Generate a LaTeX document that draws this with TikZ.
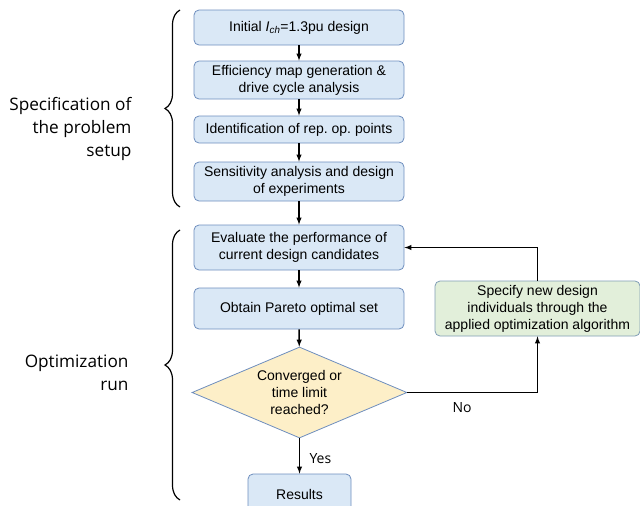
\documentclass[tikz,border=0pt]{standalone}
\usepackage{xcolor}
\usepackage{fontspec}
\setmainfont{Liberation Sans}
\newfontfamily\sidefont{Open Sans}
\usepackage{tikz}
\usetikzlibrary{arrows,shapes.geometric,decorations.pathreplacing}

\definecolor{boxfill}{HTML}{DAE8F6}
\definecolor{boxline}{HTML}{6E8EBE}
\definecolor{greenfill}{HTML}{E2EFDA}
\definecolor{greenline}{HTML}{7F9DB5}
\definecolor{decfill}{HTML}{FDEFC8}

\begin{document}
\begin{tikzpicture}[x=1pt, y=-1pt,
    stepbox/.style={draw=boxline, fill=boxfill, rounded corners=5pt, line width=0.8pt,
      minimum width=210pt, align=center, inner sep=0pt,
      font=\fontsize{14}{17}\selectfont},
    decision/.style={diamond, draw=boxline, fill=decfill, line width=0.8pt, aspect=2.36,
      minimum width=215pt, minimum height=91pt,
      inner sep=0pt, align=center, font=\fontsize{14}{17}\selectfont},
    flow/.style={-latex, line width=1.4pt},
    sidetext/.style={align=right, anchor=east, font=\sidefont\fontsize{17.2}{23}\selectfont},
    sidebrace/.style={decorate, decoration={brace, amplitude=15pt}, line width=1.2pt}]
          \useasboundingbox (0,0) rectangle (640,506);

          % problem setup
          \node[stepbox, minimum height=35pt] (init) at (299, 27.5) {Initial \textit{I}\textsubscript{\textit{ch}}=1.3pu design};
          \node[stepbox, minimum height=38pt] (effmap) at (299, 80) {Efficiency map generation \&\\drive cycle analysis};
          \node[stepbox, minimum height=27pt] (oppts) at (299, 129.5) {Identification of rep.\ op.\ points};
          \node[stepbox, minimum height=39pt] (sens) at (299, 181.5) {Sensitivity analysis and design\\of experiments};

          % optimization loop
          \node[stepbox, minimum height=45pt] (eval) at (299, 247.5) {Evaluate the performance of\\current design candidates};
          \node[stepbox, minimum height=41pt] (pareto) at (299, 308.5) {Obtain Pareto optimal set};
          \node[decision] (conv) at (299.5, 392.5) {Converged or\\time limit\\reached?};
          \node[stepbox, minimum width=103pt, minimum height=40pt] (res) at (299.5, 494) {Results};
          \node[stepbox, draw=greenline, fill=greenfill, minimum width=205pt, minimum height=55pt] (newdes) at (537.5, 308.5) {Specify new design\\individuals through the\\applied optimization algorithm};

          \foreach \a/\b in {init/effmap, effmap/oppts, oppts/sens, sens/eval, eval/pareto, pareto/conv}{
            \draw[flow] (\a) -- (\b);
          }
          \draw[flow] (conv) -- node[right, xshift=6pt, yshift=-3pt, font=\sidefont\fontsize{14}{17}\selectfont] (yes) {Yes} (res);
          \draw[flow] (conv.east) -| node[pos=0.21, below, yshift=-6pt, font=\sidefont\fontsize{14}{17}\selectfont] (no) {No} (newdes.south);
          \draw[flow] (newdes.north) |- (eval.east);

          % braces and side labels
          \coordinate (setuptop) at (180, 10);
          \coordinate (setupbot) at (180, 207);
          \coordinate (runtop) at (180, 230);
          \coordinate (runbot) at (180, 500);
          \draw[sidebrace] (setupbot) -- (setuptop);
          \draw[sidebrace] (runbot) -- (runtop);
          \node[sidetext] (setuplbl) at (135, 129) {Specification of\\the problem\\setup};
          \node[sidetext] (runlbl) at (132, 373) {Optimization\\run};
        \end{tikzpicture}
\end{document}
